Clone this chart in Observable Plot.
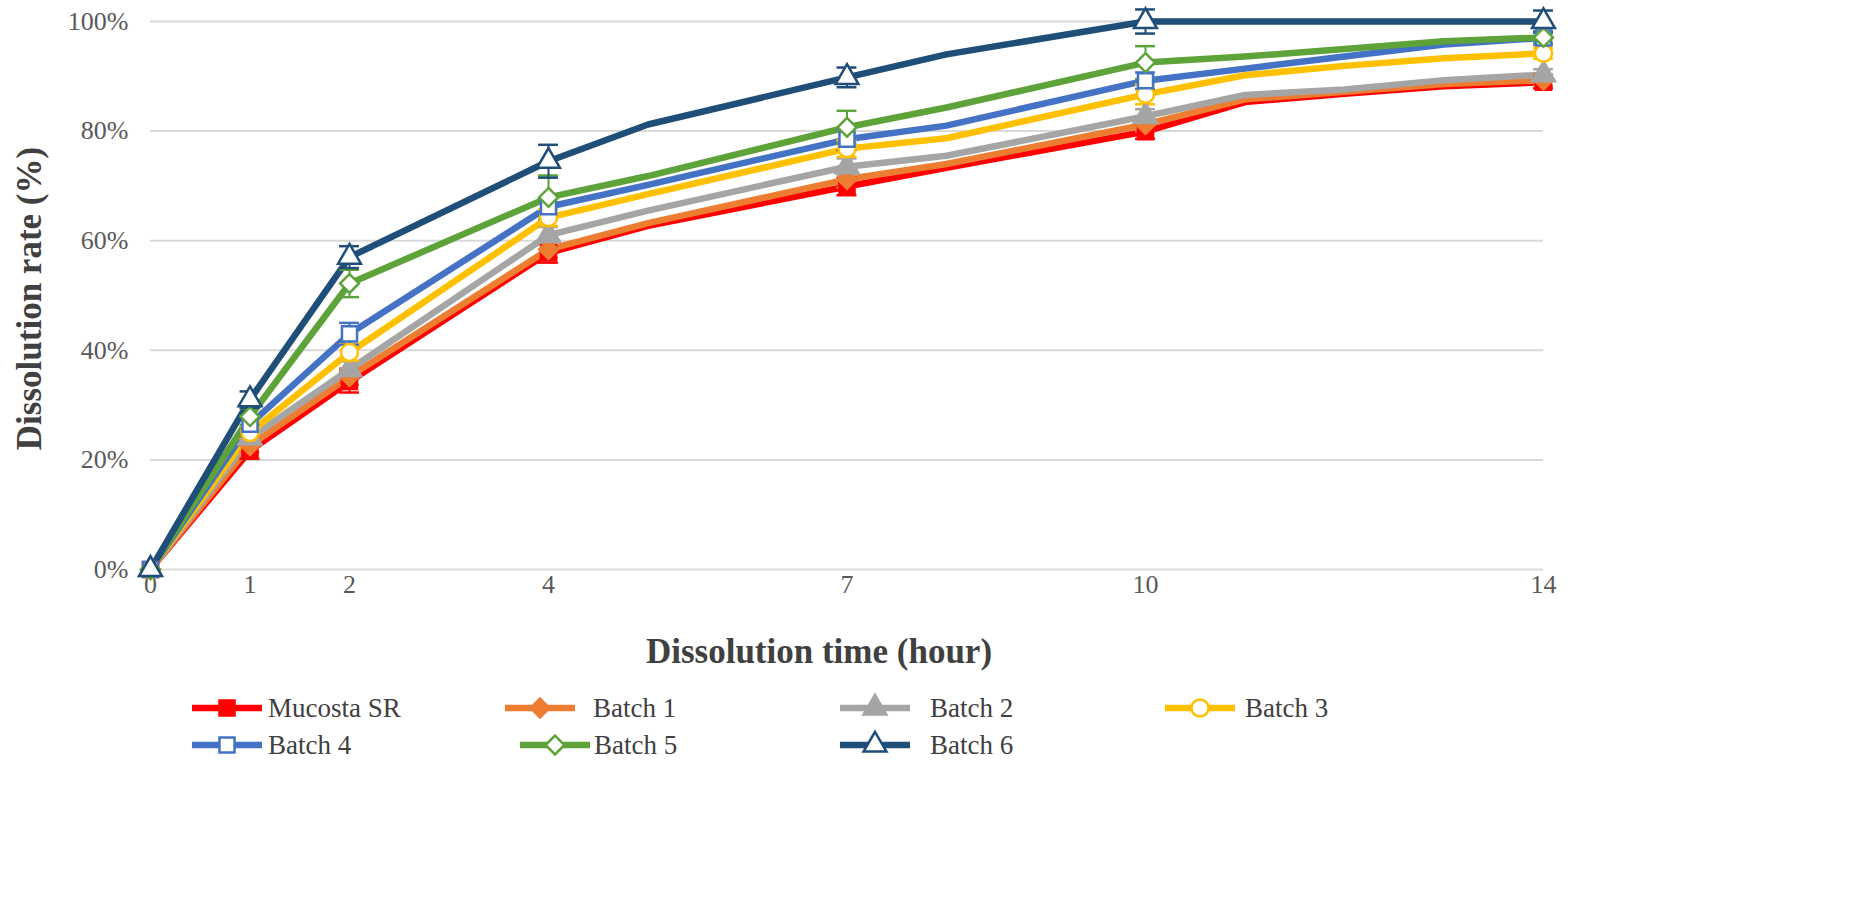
<!DOCTYPE html>
<html>
<head>
<meta charset="utf-8">
<script src="https://cdn.jsdelivr.net/npm/d3@7"></script>
<script src="https://cdn.jsdelivr.net/npm/@observablehq/plot@0.6"></script>
<style>
  body { margin: 0; background: #fff; font-family: "Liberation Serif", "DejaVu Serif", serif; }
  #wrap { position: relative; width: 1864px; height: 913px; }
  #legend { position: absolute; left: 0; top: 680px; }
</style>
</head>
<body>
<div id="wrap"><div id="chart"></div><div id="legend"></div></div>
<script>
// ---- data ----
const seriesNames = ["Mucosta SR", "Batch 1", "Batch 2", "Batch 3", "Batch 4", "Batch 5", "Batch 6"];
const seriesColors = ["#ff0000", "#ed7d31", "#a5a5a5", "#ffc000", "#4472c4", "#5ea33a", "#1f4e79"];
const seriesSymbols = ["square", "diamond2", "triangle", "circle", "square", "diamond2", "triangle"];
const seriesOpen = [false, false, false, true, true, true, true];

const times = [0, 1, 2, 4, 5, 7, 8, 10, 11, 12, 13, 14];
const mucostaSR = [0, 21.7, 34.3, 57.8, 62.7, 69.9, 73.3, 79.9, 85.3, 86.8, 88.2, 88.9];
const batch1 = [0, 22.6, 35.2, 58.4, 63.2, 71.2, 74.0, 81.2, 85.8, 87.2, 88.6, 89.3];
const batch2 = [0, 24.0, 36.5, 61.0, 65.5, 73.5, 75.5, 82.7, 86.6, 87.6, 89.3, 90.3];
const batch3 = [0, 25.0, 39.6, 64.2, 68.5, 76.8, 78.7, 86.7, 90.2, 91.9, 93.3, 94.2];
const batch4 = [0, 26.5, 43.0, 66.2, 70.2, 78.5, 81.0, 89.2, 91.4, 93.6, 95.8, 97.0];
const batch5 = [0, 27.9, 52.2, 67.9, 71.8, 80.7, 84.3, 92.5, 93.6, 95.0, 96.4, 97.1];
const batch6 = [0, 31.0, 57.0, 74.5, 81.2, 89.8, 94.0, 100, 100, 100, 100, 100];

// sampling times with markers and error bars (SD)
const sampleTimes = [0, 1, 2, 4, 7, 10, 14];
const sdMucostaSR = [0, 1.5, 2.0, 1.8, 1.6, 1.3, 1.1];
const sdBatch1 = [0, 1.2, 1.5, 1.5, 1.5, 1.3, 1.0];
const sdBatch2 = [0, 1.2, 1.5, 1.5, 1.5, 1.3, 1.0];
const sdBatch3 = [0, 1.2, 1.5, 1.5, 1.5, 1.8, 1.0];
const sdBatch4 = [0, 1.5, 2.0, 1.5, 2.0, 1.5, 1.2];
const sdBatch5 = [0, 1.5, 2.5, 4.0, 3.0, 3.0, 1.0];
const sdBatch6 = [0, 1.5, 2.0, 3.0, 1.8, 2.2, 2.0];

const xTicks = [0, 1, 2, 4, 7, 10, 14];
const yTicks = [0, 20, 40, 60, 80, 100];
const xLabel = "Dissolution time (hour)";
const yLabel = "Dissolution rate (%)";

// ---- build tables ----
const allValues = [mucostaSR, batch1, batch2, batch3, batch4, batch5, batch6];
const allSD = [sdMucostaSR, sdBatch1, sdBatch2, sdBatch3, sdBatch4, sdBatch5, sdBatch6];

const lineData = [];
const pointData = [];
seriesNames.forEach((name, i) => {
  times.forEach((t, j) => lineData.push({series: name, idx: i, t, v: allValues[i][j]}));
  sampleTimes.forEach((t, j) => {
    const v = allValues[i][times.indexOf(t)];
    pointData.push({series: name, idx: i, t, v, sd: allSD[i][j]});
  });
});
const errData = pointData.filter(d => d.sd > 0);

const font = '"Liberation Serif", "DejaVu Serif", serif';
const capHalf = 0.1;

const marks = [
  Plot.gridY(yTicks, {stroke: "#d9d9d9", strokeWidth: 2, strokeOpacity: 1}),
  Plot.axisY(yTicks, {tickSize: 0, tickPadding: 22, tickFormat: d => d + "%", fontSize: 26, fill: "#595959", label: null}),
  Plot.axisX(xTicks, {tickSize: 0, tickPadding: 5, fontSize: 26, fill: "#595959", label: null}),
];
seriesNames.forEach((name, i) => {
  marks.push(Plot.line(lineData.filter(d => d.idx === i), {x: "t", y: "v", stroke: seriesColors[i], strokeWidth: 6.5, strokeLinejoin: "round", strokeLinecap: "round"}));
});
seriesNames.forEach((name, i) => {
  const ed = errData.filter(d => d.idx === i);
  const col = seriesColors[i];
  marks.push(Plot.ruleX(ed, {x: "t", y1: d => d.v - d.sd, y2: d => d.v + d.sd, stroke: col, strokeWidth: 2}));
  marks.push(Plot.ruleY(ed, {x1: d => d.t - capHalf, x2: d => d.t + capHalf, y: d => d.v + d.sd, stroke: col, strokeWidth: 2.5}));
  marks.push(Plot.ruleY(ed, {x1: d => d.t - capHalf, x2: d => d.t + capHalf, y: d => d.v - d.sd, stroke: col, strokeWidth: 2.5}));
});
seriesNames.forEach((name, i) => {
  marks.push(Plot.dot(pointData.filter(d => d.idx === i), {
    x: "t", y: "v", symbol: () => seriesSymbols[i], r: 8.5,
    fill: seriesOpen[i] ? "#ffffff" : seriesColors[i],
    stroke: seriesColors[i], strokeWidth: 2.5
  }));
});
marks.push(Plot.text([xLabel], {frameAnchor: "bottom", lineAnchor: "middle", textAnchor: "middle", dy: 82, dx: -28, fontSize: 35, fontWeight: "bold", fill: "#404040", fontFamily: font}));
marks.push(Plot.text([yLabel], {frameAnchor: "left", lineAnchor: "middle", textAnchor: "middle", rotate: -90, dx: -121, dy: 3, fontSize: 35, fontWeight: "bold", fill: "#404040", fontFamily: font}));

const chart = Plot.plot({
  width: 1864,
  height: 680,
  marginLeft: 150,
  marginRight: 321,
  marginTop: 21,
  marginBottom: 111,
  style: {fontFamily: font, background: "#fff", overflow: "visible"},
  x: {type: "linear", domain: [0, 14]},
  y: {domain: [0, 100]},
  symbol: {type: "identity"},
  marks
});
document.getElementById("chart").appendChild(chart);

// ---- legend ----
const legendPos = [
  {line: 192, text: 268, row: 0}, {line: 505, text: 593, row: 0}, {line: 840, text: 930, row: 0}, {line: 1165, text: 1245, row: 0},
  {line: 192, text: 268, row: 1}, {line: 520, text: 594, row: 1}, {line: 840, text: 930, row: 1}
];
const symMap = {square: d3.symbolSquare, diamond2: d3.symbolDiamond2, triangle: d3.symbolTriangle, circle: d3.symbolCircle};
const lsvg = d3.select("#legend").append("svg").attr("width", 1864).attr("height", 100);
seriesNames.forEach((name, i) => {
  const p = legendPos[i];
  const cy = 28 + p.row * 37;
  const g = lsvg.append("g");
  g.append("line").attr("x1", p.line).attr("x2", p.line + 70).attr("y1", cy).attr("y2", cy)
    .attr("stroke", seriesColors[i]).attr("stroke-width", 6.5);
  g.append("path").attr("d", d3.symbol(symMap[seriesSymbols[i]], Math.PI * 8.5 * 8.5)())
    .attr("transform", `translate(${p.line + 35},${cy})`)
    .attr("fill", seriesOpen[i] ? "#fff" : seriesColors[i])
    .attr("stroke", seriesColors[i]).attr("stroke-width", 2.5);
  g.append("text").attr("x", p.text).attr("y", cy).attr("dy", "0.35em")
    .attr("font-family", font).attr("font-size", 27).attr("fill", "#404040").text(name);
});
</script>
</body>
</html>
